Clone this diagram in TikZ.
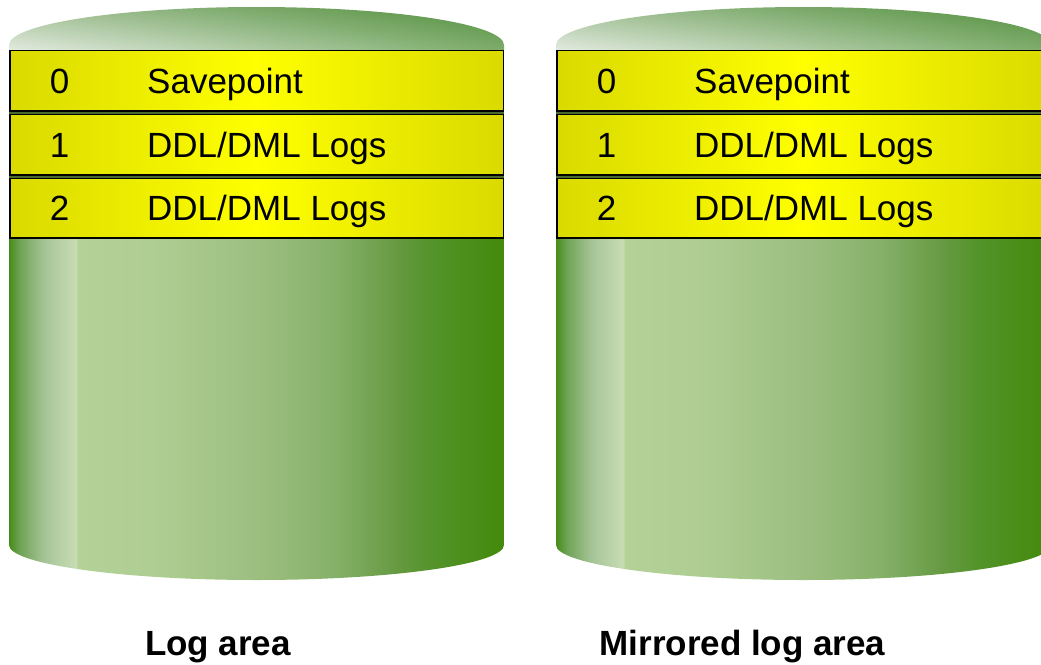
\documentclass[tikz,border=0pt]{standalone}
\usepackage{fontspec}
\setmainfont{Liberation Sans}
\usetikzlibrary{shadings}

\definecolor{capUL}{HTML}{A3C197}
\definecolor{capUR}{HTML}{4F8E39}
\definecolor{capLL}{HTML}{E2EADF}
\definecolor{capLR}{HTML}{7DAC6B}
\definecolor{rowEdge}{HTML}{DADA00}
\definecolor{rowGap}{HTML}{4A6A2E}
\definecolor{bodyA}{HTML}{468D18}
\definecolor{bodyB}{HTML}{6FA356}
\definecolor{bodyC}{HTML}{A6C597}
\definecolor{bodyD}{HTML}{C8DCB4}
\definecolor{bodyE}{HTML}{B4D298}
\definecolor{bodyF}{HTML}{AFCE93}
\definecolor{bodyG}{HTML}{9ABD7E}
\definecolor{bodyH}{HTML}{86B16A}
\definecolor{bodyI}{HTML}{64993F}
\definecolor{bodyK}{HTML}{539329}
\definecolor{bodyJ}{HTML}{438A0B}

\pgfdeclarehorizontalshading{cylbody}{100bp}{color(0bp)=(bodyA); color(25bp)=(bodyA);
  color(26.1bp)=(bodyB); color(28.6bp)=(bodyC); color(31.77bp)=(bodyD); color(31.97bp)=(bodyE);
  color(39.24bp)=(bodyF); color(51.06bp)=(bodyG); color(57.7bp)=(bodyH); color(64.5bp)=(bodyI);
  color(67.8bp)=(bodyK); color(75bp)=(bodyJ); color(100bp)=(bodyJ)}

\tikzset{
  logrow/.style={draw=black, line width=1.5pt, left color=rowEdge, right color=rowEdge, middle color=yellow},
  slotnum/.style={anchor=base, inner sep=0pt, font=\fontsize{35}{40}\selectfont},
  slottext/.style={anchor=base west, inner sep=0pt, font=\fontsize{35}{40}\selectfont},
  areatitle/.style={anchor=base, inner sep=0pt, font=\bfseries\fontsize{35}{40}\selectfont}
}

\begin{document}
\begin{tikzpicture}[x=1pt, y=-1pt]

    \useasboundingbox (0,0) rectangle (1041,664);
    \clip (0,0) rectangle (1041,664);

    % left cylinder
    \shade[upper left=capUL, upper right=capUR, lower left=capLL, lower right=capLR]
        (9,50) -- (9,45) .. controls (9,24) and (120,7) .. (256.5,7)
        .. controls (393,7) and (504,24) .. (504,45) -- (504,50) -- cycle;
    \fill[rowGap] (9,50) rectangle (504,238);
    \shade[shading=cylbody] (9,238) -- (9,545) .. controls (9,564) and (120,580) .. (256.5,580)
        .. controls (393,580) and (504,564) .. (504,545) -- (504,238) -- cycle;

    \path[logrow] (9.75,50.25) rectangle (503.25,110.75);
    \path[logrow] (9.75,114.25) rectangle (503.25,174.75);
    \path[logrow] (9.75,178.25) rectangle (503.25,237.75);

    \node[slotnum] (numL0) at (59.5,93) {0};
    \node[slottext] (txtL0) at (147,93) {Savepoint};
    \node[slotnum] (numL1) at (59.5,157) {1};
    \node[slottext] (txtL1) at (147,157) {DDL/DML Logs};
    \node[slotnum] (numL2) at (59.5,220) {2};
    \node[slottext] (txtL2) at (147,220) {DDL/DML Logs};

    % right cylinder (the mirror)
    \begin{scope}[xshift=547pt]
    \shade[upper left=capUL, upper right=capUR, lower left=capLL, lower right=capLR]
        (9,50) -- (9,45) .. controls (9,24) and (120,7) .. (256.5,7)
        .. controls (393,7) and (504,24) .. (504,45) -- (504,50) -- cycle;
    \fill[rowGap] (9,50) rectangle (504,238);
    \shade[shading=cylbody] (9,238) -- (9,545) .. controls (9,564) and (120,580) .. (256.5,580)
        .. controls (393,580) and (504,564) .. (504,545) -- (504,238) -- cycle;

    \path[logrow] (9.75,50.25) rectangle (503.25,110.75);
    \path[logrow] (9.75,114.25) rectangle (503.25,174.75);
    \path[logrow] (9.75,178.25) rectangle (503.25,237.75);

    \node[slotnum] (numR0) at (59.5,93) {0};
    \node[slottext] (txtR0) at (147,93) {Savepoint};
    \node[slotnum] (numR1) at (59.5,157) {1};
    \node[slottext] (txtR1) at (147,157) {DDL/DML Logs};
    \node[slotnum] (numR2) at (59.5,220) {2};
    \node[slottext] (txtR2) at (147,220) {DDL/DML Logs};
    \end{scope}

    \node[areatitle] (titleL) at (218,655) {Log area};
    \node[areatitle] (titleR) at (742.5,655) {Mirrored log area};

\end{tikzpicture}
\end{document}
